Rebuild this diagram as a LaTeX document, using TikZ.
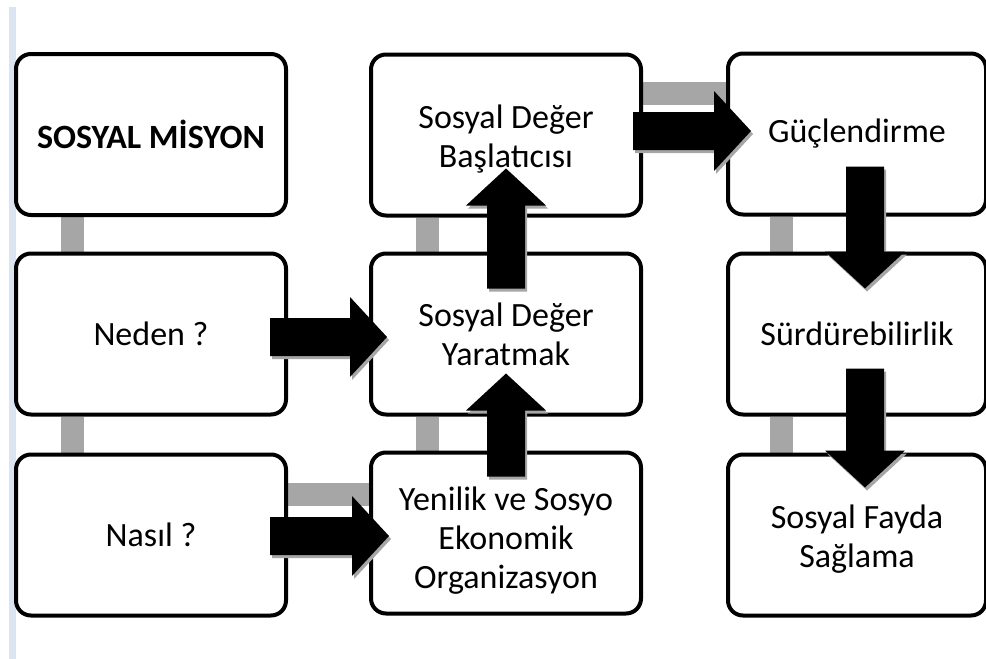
\documentclass[tikz,border=0pt]{standalone}
\usepackage{fontspec}
\setmainfont{Carlito}
\usetikzlibrary{backgrounds,calc}
\definecolor{barcol}{HTML}{A6A6A6}
\definecolor{paleblue}{HTML}{DBE5F1}

\tikzset{
  kutu/.style={draw=black, line width=4pt, rounded corners=15pt, fill=white,
    minimum width=270pt, minimum height=161pt, inner sep=0pt, align=center,
    font=\fontsize{34}{39}\selectfont},
  kutusag/.style={kutu, minimum width=258pt},
  bar/.style={barcol, line width=23pt}
}

% block arrow from #1 to #2, with its grey shadow
\newcommand{\blokok}[2]{%
  \path ($(#2)!37pt!(#1)$) coordinate (boyun);
  \foreach \renk/\kay in {barcol/{xshift=2pt,yshift=-3pt}, black/{}}{
    \fill[\renk, transform canvas/.expanded={\kay}]
      ($(#1)!19pt!90:(#2)$) -- ($(boyun)!19pt!-90:(#1)$) -- ($(boyun)!40pt!-90:(#1)$)
      -- (#2) -- ($(boyun)!40pt!90:(#1)$) -- ($(boyun)!19pt!90:(#1)$)
      -- ($(#1)!19pt!-90:(#2)$) -- cycle;
  }%
}

\begin{document}
\begin{tikzpicture}[x=1pt,y=-1pt]
			\useasboundingbox (0,0) rectangle (986,659);
			
			% draw boxes
			\node[kutu, font=\fontsize{34}{39}\selectfont\bfseries] (misyon) at (151,134.5) {SOSYAL MİSYON};
			\node[kutu] (neden) at (151,334) {Neden ?};
			\node[kutu] (nasil) at (151,535) {Nasıl ?};
			
			\node[kutu] (baslat) at (506,135) {\rule{0pt}{31pt}Sosyal Değer\\Başlatıcısı};
			\node[kutu] (yaratmak) at (506,334) {Sosyal Değer\\Yaratmak};
			\node[kutu] (yenilik) at (506,533) {\rule{0pt}{39pt}Yenilik ve Sosyo\\Ekonomik\\Organizasyon};
			
			\node[kutusag] (gucl) at (857,134) {Güçlendirme};
			\node[kutusag] (surd) at (857,334) {Sürdürebilirlik};
			\node[kutusag] (fayda) at (857,535) {\rule{0pt}{31pt}Sosyal Fayda\\Sağlama};
			
			% grey links and side strip
			\begin{scope}[on background layer]
				\fill[paleblue] (9,7) rectangle (16,659);
				\draw[bar] ($(misyon.south west)+(58,0)$) -- ($(neden.north west)+(58,0)$);
				\draw[bar] ($(neden.south west)+(58,0)$) -- ($(nasil.north west)+(58,0)$);
				\draw[bar] ($(baslat.south west)+(58,0)$) -- ($(yaratmak.north west)+(58,0)$);
				\draw[bar] ($(yaratmak.south west)+(58,0)$) -- ($(yenilik.north west)+(58,0)$);
				\draw[bar] ($(gucl.south west)+(55,0)$) -- ($(surd.north west)+(55,0)$);
				\draw[bar] ($(surd.south west)+(55,0)$) -- ($(fayda.north west)+(55,0)$);
				\draw[bar] ($(nasil.north east)+(0,42)$) -- ($(yenilik.west |- nasil.north)+(0,42)$);
				\draw[bar] ($(baslat.north east)+(0,41)$) -- ($(gucl.west |- baslat.north)+(0,41)$);
			\end{scope}
			
			% arrow ends
			\coordinate (ok1a) at ($(neden.east)+(-18,3)$);
			\coordinate (ok1b) at ($(yaratmak.west)+(18,3)$);
			\coordinate (ok2a) at ($(nasil.east)+(-18,1)$);
			\coordinate (ok2b) at ($(yenilik.west)+(20,3)$);
			\coordinate (ok3a) at ($(baslat.east)+(-10,-4)$);
			\coordinate (ok3b) at ($(gucl.west)+(25,-3)$);
			\coordinate (ok4a) at ($(gucl.south)+(8,-50)$);
			\coordinate (ok4b) at ($(surd.north)+(8,37)$);
			\coordinate (ok5a) at ($(surd.south)+(8,-48)$);
			\coordinate (ok5b) at ($(fayda.north)+(8,35)$);
			\coordinate (ok6a) at ($(yenilik.north)+(0,26)$);
			\coordinate (ok6b) at ($(yaratmak.south)+(0,-43)$);
			\coordinate (ok7a) at ($(yaratmak.north)+(0,37)$);
			\coordinate (ok7b) at ($(baslat.south)+(0,-49)$);
			
			% draw block arrows
			\foreach \k in {1,...,7}{\blokok{ok\k a}{ok\k b}}
			
		\end{tikzpicture}
\end{document}
